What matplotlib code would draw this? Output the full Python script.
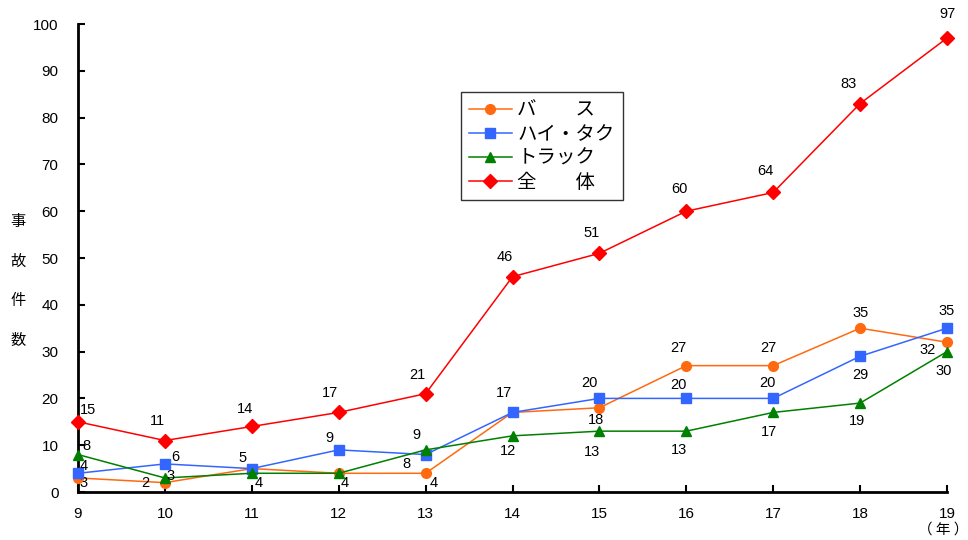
import matplotlib
matplotlib.use('Agg')
import matplotlib.pyplot as plt

years = [9, 10, 11, 12, 13, 14, 15, 16, 17, 18, 19]
bus = [3, 2, 5, 4, 4, 17, 18, 27, 27, 35, 32]
haitaku = [4, 6, 5, 9, 8, 17, 20, 20, 20, 29, 35]
truck = [8, 3, 4, 4, 9, 12, 13, 13, 17, 19, 30]
total = [15, 11, 14, 17, 21, 46, 51, 60, 64, 83, 97]

names = ['バ　　ス', 'ハイ・タク', 'トラック', '全　　体']

# label offsets in pixels (None = label hidden behind another one)
off_bus = [(6, -5), (-20, 0), None, (6, -10), (8, -10), (-9, 19), (-3, -12),
           (-8, 18), (-5, 18), (0, 15), (-19, -8)]
off_hai = [(6, 7), (10, 7), (-9, 11), (-9, 12), (-19, -9), None, (-10, 15),
           (-8, 13), (-6, 15), (0, -19), (0, 17)]
off_tru = [(8, 9), (6, 2), (7, -10), None, (-9, 15), (-5, -15), (-7, -21),
           (-7, -19), (-4, -20), (-3, -18), (-3, -19)]
off_tot = [(10, 12), (-7, 20), (-7, 17), (-9, 19), (-8, 19), (-8, 20), (-8, 20),
           (-7, 22), (-8, 21), (-12, 20), (0, 24)]

NUMFONT = ['Liberation Sans', 'DejaVu Sans']
JPFONT = ['Noto Sans CJK JP', 'DejaVu Sans']
FONTSIZE = 10.5

fig = plt.figure(figsize=(9.68, 5.4), dpi=100)
ax = fig.add_axes([78 / 968, 1 - 492 / 540, (947 - 78) / 968, (492 - 24) / 540])

series = [
    (bus, '#FF6A10', 'o', 7, off_bus),
    (haitaku, '#3366FF', 's', 7, off_hai),
    (truck, '#008000', '^', 7, off_tru),
    (total, '#FF0000', 'D', 7, off_tot),
]
for (vals, col, mk, ms, offs), name in zip(series, names):
    ax.plot(years, vals, color=col, marker=mk, markersize=ms, lw=1.1,
            label=name, clip_on=False, zorder=3)
    for x, v, o in zip(years, vals, offs):
        if o is None:
            continue
        ax.annotate(str(v), (x, v), xytext=o, textcoords='offset pixels',
                    ha='center', va='center', fontsize=FONTSIZE,
                    family=NUMFONT)

ax.set_xlim(9, 19)
ax.set_ylim(0, 100)
ax.set_xticks(years)
ax.set_yticks(range(0, 101, 10))
for s in ['top', 'right']:
    ax.spines[s].set_visible(False)
for s in ['left', 'bottom']:
    ax.spines[s].set_linewidth(2)
ax.tick_params(direction='in', length=5, width=1.5, labelsize=11)
for lab in ax.get_xticklabels() + ax.get_yticklabels():
    lab.set_family(NUMFONT)
ax.tick_params(axis='x', pad=11)
ax.tick_params(axis='y', pad=14)

fig.text(18 / 968, 1 - 281 / 540, '事\n故\n件\n数', ha='center', va='center',
         fontsize=11, family=JPFONT, linespacing=2.75)
fig.text(943 / 968, 1 - 530 / 540, '（ 年 ）', ha='center', va='center',
         fontsize=10.5, family=JPFONT)

leg = fig.legend(loc='upper left', bbox_to_anchor=(461 / 968, 1 - 92 / 540),
                 prop={'family': JPFONT, 'size': 14}, frameon=True,
                 fancybox=False, borderaxespad=0, handlelength=2.2,
                 labelspacing=0.15, borderpad=0.4, handletextpad=0.3)
leg.get_frame().set_edgecolor('black')
leg.get_frame().set_linewidth(1)

fig.savefig('out.png', dpi=100)
